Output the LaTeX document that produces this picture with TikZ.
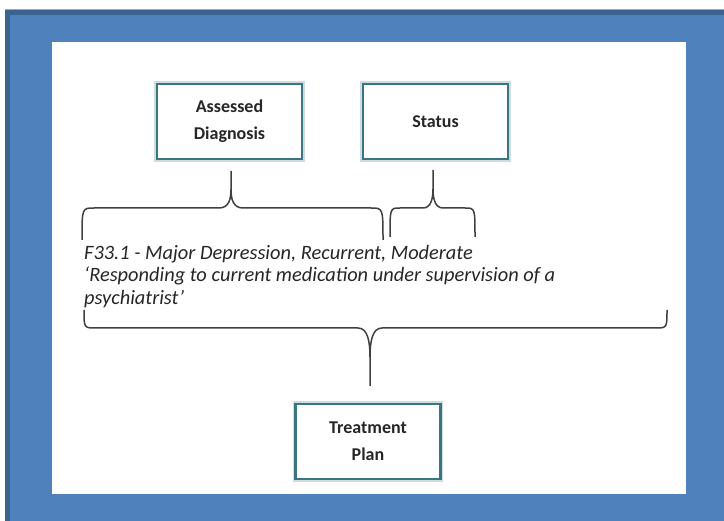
\documentclass[tikz,border=0pt]{standalone}
\usepackage{fontspec}
\setmainfont{Carlito}
\definecolor{bgblue}{HTML}{4F81BD}
\definecolor{bgdark}{HTML}{3A6391}
\definecolor{boxc}{HTML}{3A7582}
\definecolor{txt}{HTML}{262626}
\definecolor{brc}{HTML}{404040}
\newcommand\mybrace[7]{% xl, xt, xr, yh, ytip, yend, r
  \draw[brace line] (#1,#6) .. controls (#1,#4) and (#1,#4) .. ({#1+#7},#4) -- ({#2-#7},#4)
    .. controls ({#2-2},#4) and (#2,{0.75*#4+0.25*#5}) .. (#2,{0.5*#4+0.5*#5}) -- (#2,#5);
  \draw[brace line] (#2,{0.5*#4+0.5*#5}) .. controls (#2,{0.75*#4+0.25*#5}) and ({#2+2},#4) .. ({#2+#7},#4)
    -- ({#3-#7},#4) .. controls (#3,#4) and (#3,#4) .. (#3,#6);
}
\begin{document}
\begin{tikzpicture}[x=1pt,y=-1pt,
  box/.style={draw=boxc, line width=2.8pt, fill=white, minimum width=145pt, minimum height=75pt,
    align=center, text=txt, font=\bfseries\fontsize{18}{27}\selectfont,
    preaction={draw=boxc!25, line width=5.5pt}},
  brace line/.style={draw=brc, line width=1.5pt}]
\useasboundingbox (0,0) rectangle (724,521);
\fill[white] (0,0) rectangle (724,521);
\fill[bgblue] (5,9) rectangle (724,521);
\fill[bgdark] (5,9) rectangle (724,15);
\fill[bgdark] (5,9) rectangle (10,521);
\draw[gray!70, line width=0.8pt] (5,9) -- (724,9);
\fill[white] (52,42) rectangle (686,494);

\node[box] (ad) at (229.5,121.5) {Assessed\\Diagnosis};
\node[box] (st) at (435.5,121.5) {Status};
\node[box] (tp) at (368,441.5) {Treatment\\Plan};

\node[anchor=north west, align=left, text=txt, inner sep=0pt,
  font=\itshape\fontsize{20.4}{22.5}\selectfont] (desc) at (84,245)
  {F33.1 - Major Depression, Recurrent, Moderate\\
   ‘Responding to current medication under supervision of a\\
   psychiatrist’};

\mybrace{82}{231}{383}{208}{171}{240}{12}
\mybrace{390}{433}{475}{208}{170}{237}{10}
\mybrace{84}{370}{667}{328}{386}{310}{12}
\end{tikzpicture}
\end{document}
